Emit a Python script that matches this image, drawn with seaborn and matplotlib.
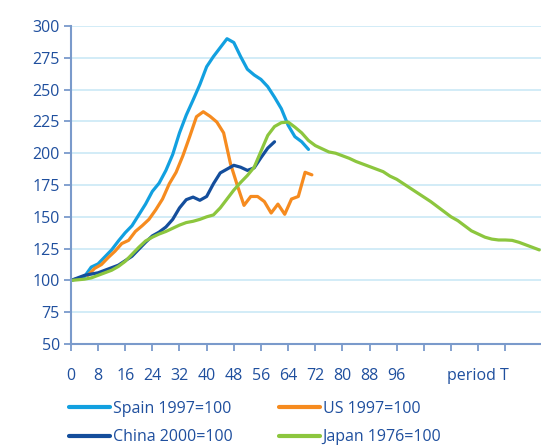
import numpy as np
import pandas as pd
import seaborn as sns
import matplotlib
matplotlib.use("Agg")
import matplotlib.pyplot as plt

# values, one point every 2 periods
spain_start = 0
spain = [100, 101.5, 103, 110.5, 113, 118.5, 124, 131, 137.5, 143, 151.5, 160,
         170, 176.5, 186.5, 199, 216, 230, 241.8, 254, 268, 276, 283, 290,
         287, 276, 266, 261.5, 258, 252.3, 244, 235, 222, 213, 209, 203]

us_start = 5
us = [104, 109.5, 112.5, 118, 123, 129, 131.5, 138.5, 143, 148, 155.5, 164,
      176, 185, 198, 213, 228.7, 232.6, 229, 224.5, 216, 192, 175, 159,
      166, 166, 162, 153, 160, 152, 164, 166, 185, 183]

china_start = 0
china = [100, 102, 104, 105, 106, 108, 110, 112, 115.5, 119, 124.5, 130,
         135, 138, 142, 148, 157, 163.5, 165.5, 163, 166, 176, 184.5, 187.5,
         190.5, 189, 186.5, 188.5, 196.5, 204, 209]

japan_start = 0
japan = [100, 100.5, 101, 102, 104, 106, 108, 111, 115, 120.5, 126, 131,
         134, 136.5, 138.5, 141, 143.5, 145.5, 146.5, 148, 150, 151.5, 157, 164,
         171, 177, 182.5, 189, 201.5, 214, 221, 224, 224.5, 220.5, 216, 210,
         206, 203.5, 201, 200, 198, 196, 193.5, 191.5, 189.5, 187.5, 185.5, 182,
         179.5, 176, 172.5, 169, 165.5, 162, 158, 154, 150, 147, 143, 139,
         136.5, 134, 132.5, 131.8, 131.8, 131.5, 130, 128, 126, 124]

labels = ["Spain 1997=100", "US 1997=100", "China 2000=100", "Japan 1976=100"]
colors = ["#12a0e0", "#f68b1f", "#144e9c", "#8cc63e"]
x_labels = ["0", "8", "16", "24", "32", "40", "48", "56", "64", "72", "80",
            "88", "96", "", "", "period T", ""]

series = [(spain_start, spain), (us_start, us), (china_start, china), (japan_start, japan)]
frames = []
for (start, vals), name in zip(series, labels):
    frames.append(pd.DataFrame({"period": start + 2 * np.arange(len(vals)),
                                "index": vals, "series": name}))
df = pd.concat(frames, ignore_index=True)

sns.set_style("white")
plt.rcParams["font.family"] = ["Open Sans", "DejaVu Sans"]

text_col = "#1f4f9e"
axis_col = "#7a9acb"

fig = plt.figure(figsize=(5.41, 4.48), dpi=100)
ax = fig.add_axes([0.131, 0.232, 0.869, 0.71])

sns.lineplot(data=df, x="period", y="index", hue="series", hue_order=labels,
             palette=colors, linewidth=2.3, ax=ax, legend=False, sort=False,
             estimator=None)

ax.set_xlim(0, 138.5)
ax.set_ylim(50, 300)
ax.set_yticks(np.arange(50, 301, 25))
ax.set_xticks(np.arange(0, 129, 8))
ax.set_xticklabels(x_labels)
ax.set_xlabel("")
ax.set_ylabel("")
ax.grid(axis="y", color="#cfeaf7", linewidth=1.3)
ax.set_axisbelow(True)
sns.despine(ax=ax)
for s in ["left", "bottom"]:
    ax.spines[s].set_color(axis_col)
    ax.spines[s].set_linewidth(1.5)
ax.tick_params(axis="y", colors=axis_col, labelcolor=text_col, labelsize=11.5,
               length=5, width=1.3, pad=3, left=True)
ax.tick_params(axis="x", colors=axis_col, labelcolor=text_col, labelsize=11.5,
               length=5, width=1.3, pad=12, bottom=True)

handles = [plt.Line2D([], [], color=c, linewidth=3) for c in colors]
order = [0, 2, 1, 3]
fig.legend([handles[i] for i in order], [labels[i] for i in order],
           loc="upper left", bbox_to_anchor=(0.127, 0.106), ncol=2,
           frameon=False, fontsize=11.5, labelcolor=text_col,
           handlelength=2.6, handletextpad=0.15, columnspacing=2.9,
           labelspacing=0.8, borderpad=0, borderaxespad=0)

fig.savefig("out.png", dpi=100)
